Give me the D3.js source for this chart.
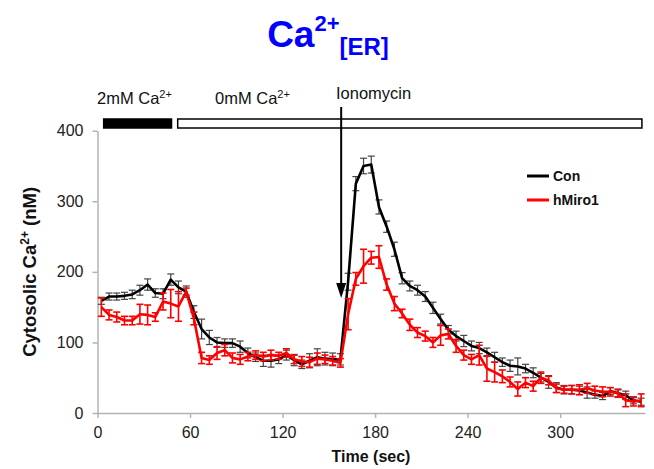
<!DOCTYPE html>
<html>
<head>
<meta charset="utf-8">
<script src="https://cdn.jsdelivr.net/npm/d3@7"></script>
<style>
  body { margin: 0; background: #fff; }
  svg { display: block; }
  text { font-family: "Liberation Sans", Arial, sans-serif; }
</style>
</head>
<body>
<svg id="chart" width="654" height="469"></svg>
<script>
// Sampling times (sec)
const timeSec = [2.5,7.5,12.5,17.5,22.5,27.5,32.5,37.5,42.5,47.5,52.5,57.5,62.5,67.5,72.5,77.5,82.5,87.5,92.5,97.5,
  102.5,107.5,112.5,117.5,122.5,127.5,132.5,137.5,142.5,147.5,152.5,157.5,162.5,167.5,172.5,177.5,182.5,187.5,192.5,197.5,
  202.5,207.5,212.5,217.5,222.5,227.5,232.5,237.5,242.5,247.5,252.5,257.5,262.5,267.5,272.5,277.5,282.5,287.5,292.5,297.5,
  302.5,307.5,312.5,317.5,322.5,327.5,332.5,337.5,342.5,347.5,352.5];

// Cytosolic Ca2+ (nM), mean and SEM — control cells
const conMean = [159,165,165,166,168,174,182,170,169,189,178,172,
  143,119,107,100,99,99,94,85,79,74,74,76,82,75,69,74,79,77,76,76,
  186,325,350,352,292,264,232,191,180,174,165,149,
  133,118,109,102,95,92,86,79,72,67,66,63,57,50,44,36,33,33,32,29,26,24,31,28,25,18,16];
const conErr = [5,5,5,5,6,7,8,6,7,8,9,8,
  9,14,10,7,6,6,8,7,6,8,9,6,7,8,6,10,12,9,9,8,
  12,10,11,12,10,8,10,8,7,7,7,8,
  7,6,7,8,7,8,6,7,6,8,12,6,7,6,9,7,6,6,6,8,5,5,5,6,6,5,5];

// hMiro1-expressing cells
const miroMean = [150,139,136,131,131,140,139,136,158,155,151,172,
  134,78,75,85,89,78,76,80,82,80,82,81,85,76,73,72,77,76,74,71,
  140,190,208,220,221,182,155,141,125,114,109,100,
  110,112,95,82,76,82,63,58,52,44,34,43,38,50,46,35,33,33,33,35,32,30,30,28,18,16,18];
const miroErr = [13,7,7,6,6,14,14,6,12,20,21,5,
  9,8,6,9,8,7,7,6,6,6,7,5,6,6,7,7,8,6,6,6,
  22,9,24,9,16,8,10,6,8,7,7,7,
  14,7,9,7,7,14,18,14,9,7,10,7,7,8,6,6,5,6,7,7,6,7,6,5,9,6,9];

const seriesNames = ["Con", "hMiro1"];
const seriesColors = ["#000000", "#ff0000"];
const errColors = ["#444444", "#ff0000"];

const xTicks = [0, 60, 120, 180, 240, 300];
const yTicks = [0, 100, 200, 300, 400];

// Bath solution periods (sec) and ionomycin addition time
const bathFrom = [4, 52];
const bathTo = [48, 353];
const bathFilled = [true, false];
const bathLabels = ["2mM Ca", "0mM Ca"];
const ionomycinTime = 158;

const svg = d3.select("#chart");
const x = d3.scaleLinear().domain([0, 355]).range([97.5, 645]);
const y = d3.scaleLinear().domain([0, 400]).range([413, 130.7]);

// Title
const title = svg.append("text")
  .attr("x", 328).attr("y", 47)
  .attr("text-anchor", "middle")
  .attr("fill", "#0000ff")
  .attr("font-weight", "bold");
title.append("tspan").attr("font-size", 37).text("Ca");
title.append("tspan").attr("font-size", 22).attr("dy", -16).text("2+");
title.append("tspan").attr("font-size", 24).attr("dy", 24).text("[ER]");

// Axes
const axisColor = "#b3b3b3";
const gx = svg.append("g").attr("transform", `translate(0,${y(0)})`)
  .call(d3.axisBottom(x).tickValues(xTicks).tickSize(5).tickSizeOuter(0).tickPadding(9));
const gy = svg.append("g").attr("transform", `translate(${x(0)},0)`)
  .call(d3.axisLeft(y).tickValues(yTicks).tickSize(5).tickSizeOuter(0).tickPadding(9));
[gx, gy].forEach(g => {
  g.select(".domain").attr("stroke", axisColor).attr("stroke-width", 1.5);
  g.selectAll(".tick line").attr("stroke", axisColor).attr("stroke-width", 1.5);
  g.selectAll(".tick text").attr("fill", "#222").attr("font-size", 16)
    .attr("font-family", "'Liberation Sans', Arial, sans-serif");
});

// Axis titles
svg.append("text")
  .attr("x", 371).attr("y", 462)
  .attr("text-anchor", "middle")
  .attr("font-weight", "bold").attr("font-size", 16).attr("fill", "#111")
  .text("Time (sec)");

const yt = svg.append("text")
  .attr("transform", `translate(36,${(y(0) + y(400)) / 2}) rotate(-90)`)
  .attr("text-anchor", "middle")
  .attr("font-weight", "bold").attr("font-size", 18.5).attr("fill", "#111");
yt.append("tspan").text("Cytosolic Ca");
yt.append("tspan").attr("font-size", 12).attr("dy", -7).text("2+");
yt.append("tspan").attr("dy", 7).text(" (nM)");

// Bath solution bars and labels
const barTop = 119, barH = 9;
bathFrom.forEach((f, i) => {
  svg.append("rect")
    .attr("x", x(f)).attr("y", barTop)
    .attr("width", x(bathTo[i]) - x(f)).attr("height", barH)
    .attr("fill", bathFilled[i] ? "#000" : "#fff")
    .attr("stroke", "#000").attr("stroke-width", 1.5);
});
const labelX = [97, 215];
bathLabels.forEach((lab, i) => {
  const t = svg.append("text")
    .attr("x", labelX[i]).attr("y", 104)
    .attr("font-size", 16.5).attr("fill", "#111");
  t.append("tspan").text(lab);
  t.append("tspan").attr("font-size", 11).attr("dy", -6).text("2+");
});

// Ionomycin arrow
svg.append("text")
  .attr("x", 336).attr("y", 99)
  .attr("font-size", 16.5).attr("fill", "#111")
  .text("Ionomycin");
const ax = x(ionomycinTime);
svg.append("line")
  .attr("x1", ax).attr("x2", ax)
  .attr("y1", 107).attr("y2", 285)
  .attr("stroke", "#000").attr("stroke-width", 2);
svg.append("path")
  .attr("d", `M${ax - 5},${283} L${ax + 5},${283} L${ax},${298} Z`)
  .attr("fill", "#000");

// Series
const series = [
  { mean: conMean, err: conErr },
  { mean: miroMean, err: miroErr }
];
const line = d3.line().x((d, i) => x(timeSec[i])).y(d => y(d));

series.forEach((s, k) => {
  const g = svg.append("g");
  // error bars
  const eb = g.selectAll("g.eb").data(s.mean).join("g").attr("class", "eb");
  eb.append("line")
    .attr("x1", (d, i) => x(timeSec[i])).attr("x2", (d, i) => x(timeSec[i]))
    .attr("y1", (d, i) => y(d - s.err[i])).attr("y2", (d, i) => y(d + s.err[i]))
    .attr("stroke", errColors[k]).attr("stroke-width", k ? 1.6 : 1.2);
  [-1, 1].forEach(sign => {
    eb.append("line")
      .attr("x1", (d, i) => x(timeSec[i]) - 3.5).attr("x2", (d, i) => x(timeSec[i]) + 3.5)
      .attr("y1", (d, i) => y(d + sign * s.err[i])).attr("y2", (d, i) => y(d + sign * s.err[i]))
      .attr("stroke", errColors[k]).attr("stroke-width", k ? 1.6 : 1.2);
  });
  g.append("path")
    .attr("d", line(s.mean))
    .attr("fill", "none")
    .attr("stroke", seriesColors[k])
    .attr("stroke-width", 2.6)
    .attr("stroke-linejoin", "round");
});

// Legend
seriesNames.forEach((name, k) => {
  const ly = 176 + k * 24;
  svg.append("line")
    .attr("x1", 527).attr("x2", 549)
    .attr("y1", ly).attr("y2", ly)
    .attr("stroke", seriesColors[k]).attr("stroke-width", 3);
  svg.append("text")
    .attr("x", 553).attr("y", ly + 5)
    .attr("font-size", 14).attr("font-weight", "bold").attr("fill", "#111")
    .text(name);
});
</script>
</body>
</html>
